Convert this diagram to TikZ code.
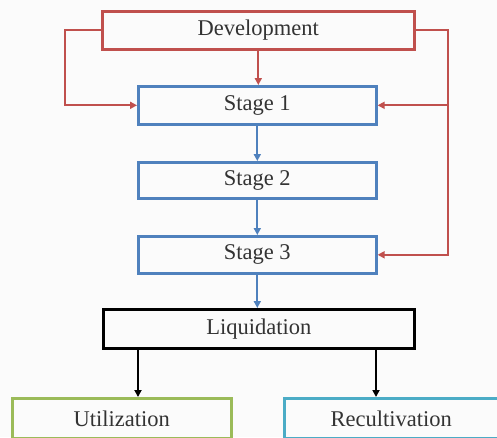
\documentclass[tikz,border=0pt]{standalone}
\usepackage{fontspec}
\setmainfont{Liberation Serif}
\usetikzlibrary{arrows.meta}
\definecolor{cred}{RGB}{192,80,77}
\definecolor{cblue}{RGB}{79,129,189}
\definecolor{cgreen}{RGB}{155,187,89}
\definecolor{clblue}{RGB}{75,172,198}
\definecolor{bg}{RGB}{251,251,251}
\tikzset{
  box/.style={draw, line width=2.6pt, inner sep=0pt, anchor=north west, font=\fontsize{22.5}{26}\selectfont, text=black!80},
  arr/.style={line width=2.2pt, -{Triangle[length=7pt,width=7pt]}},
}
\begin{document}
\begin{tikzpicture}[x=1pt,y=-1pt]
\fill[bg] (0,0) rectangle (497,437);
\useasboundingbox (0,0) rectangle (497,437);
\node[box, draw=cred, minimum width=312pt, minimum height=38pt] (dev) at (101,10) {Development};
\node[box, draw=cblue, minimum width=238pt, minimum height=38pt] (s1) at (137,85) {Stage 1};
\node[box, draw=cblue, minimum width=238pt, minimum height=36pt] (s2) at (137,161) {Stage 2};
\node[box, draw=cblue, minimum width=238pt, minimum height=37pt] (s3) at (137,235) {Stage 3};
\node[box, draw=black, minimum width=311pt, minimum height=39pt] (liq) at (102,308) {Liquidation};
\node[box, draw=cgreen, minimum width=219pt, minimum height=40pt] (uti) at (11,397) {Utilization};
\node[box, draw=clblue, minimum width=214pt, minimum height=40pt] (rec) at (283,397) {Recultivation};
\coordinate (lx) at (65,0);
\coordinate (rx) at (448,0);
\coordinate (ua) at (138,0);
\coordinate (ra) at (376,0);
\draw[arr, cred] (dev.south) -- (dev.south |- s1.north);
\draw[arr, cred] (dev.west) -| (lx |- s1.west) -- (s1.west);
\draw[arr, cred] (dev.east) -| (rx |- s1.east) -- (s1.east);
\draw[arr, cred] (rx |- s1.east) |- (s3.east);
\draw[arr, cblue] (s1.south) -- (s2.north);
\draw[arr, cblue] (s2.south) -- (s3.north);
\draw[arr, cblue] (s3.south) -- (s3.south |- liq.north);
\draw[arr, black] (ua |- liq.south) -- (ua |- uti.north);
\draw[arr, black] (ra |- liq.south) -- (ra |- rec.north);
\end{tikzpicture}
\end{document}
